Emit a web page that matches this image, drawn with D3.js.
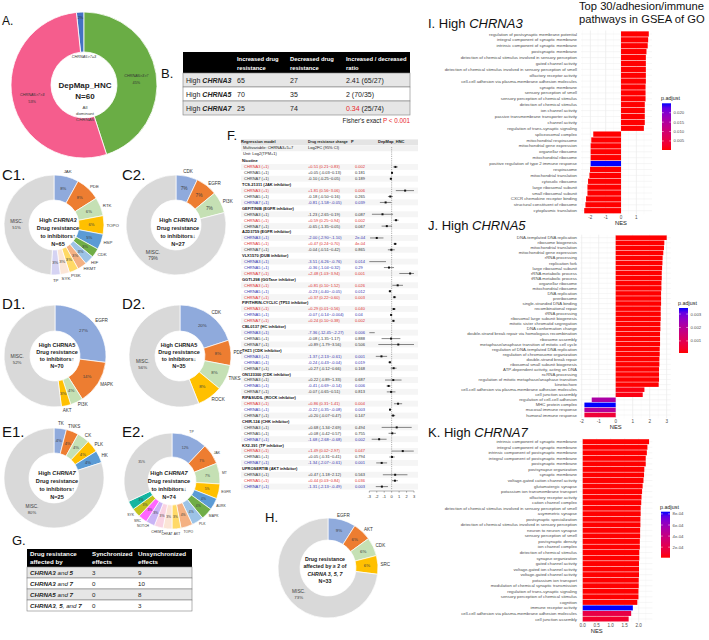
<!DOCTYPE html>
<html><head><meta charset="utf-8">
<script src="https://cdn.jsdelivr.net/npm/d3@7/dist/d3.min.js"></script>
<style>html,body{margin:0;padding:0;background:#fff;}svg{display:block;font-family:"Liberation Sans",Arial,sans-serif;}</style>
</head><body>
<svg id="fig" width="709" height="640" viewBox="0 0 709 640"></svg>
<script>
// ================= DATA =================
const A_names = ["CHRNA5>7=3","CHRNA5>3>7","CHRNA5>7>3"];
const A_values = [1,27,32];
const A_pcts = ["2%","45%","53%"];

const B_genes = ["CHRNA3","CHRNA5","CHRNA7"];
const B_increased = [65,70,25];
const B_decreased = [27,35,74];

const C1_names = ["JAK","PDE","RTK","TOPO","HSP","CDK","HIF","HKMT","PI3K","SYK","TP","MISC."];
const C1_values = [8,8,6,6,5,3,3,3,3,3,3,49];
const C1_pcts = ["8%","8%","6%","6%","5%","3%","3%","3%","3%","3%","3%","51%"];
const C2_names = ["CDK","EGFR","PI3K","MISC."];
const C2_values = [7,7,7,79];
const C2_pcts = ["7%","7%","7%","79%"];
const D1_names = ["EGFR","MAPK","PI3K","AKT","MISC."];
const D1_values = [27,14,4,3,52];
const D1_pcts = ["27%","14%","4%","3%","52%"];
const D2_names = ["CDK","PDE","TNKS","ROCK","MISC."];
const D2_values = [20,8,8,8,56];
const D2_pcts = ["20%","8%","8%","8%","56%"];
const E1_names = ["TK","TNKS","CK","PLK","HK","MISC."];
const E1_values = [4,4,4,4,4,80];
const E1_pcts = ["4%","4%","4%","4%","4%","80%"];
const E2_names = ["TP","JAK","MT","EGFR","AURK","MAPK","PLK","TOPO","AKT","CHKAT","CHKMT","NOTCH","SRC","SYK","","MISC."];
const E2_values = [12,7,7,5,4,4,4,4,3,3,3,3,3,3,3,32];
const E2_pcts = ["12%","7%","7%","5%","4%","4%","4%","4%","3%","3%","3%","3%","3%","3%","3%","35%"];
const H_names = ["EGFR","AKT","CDK","SRC","MISC."];
const H_values = [9,6,6,6,73];
const H_pcts = ["9%","6%","6%","6%","73%"];

const G_groups = ["CHRNA3 and 5","CHRNA3 and 7","CHRNA5 and 7","CHRNA3, 5, and 7"];
const G_sync = [3,0,0,0];
const G_unsync = [9,10,8,3];

const F_drugs = ["Nicotine","TCS-21311 (JAK inhibitor)","GEFITINIB (EGFR inhibitor)","AZD3759 (EGFR inhibitor)","VLX1570 (DUB inhibitor)","GGTI-298 (GGTase inhibitor)","PIFITHRIN-CYCLIC (TP53 inhibitor)","CBL0137 (HC inhibitor)","THZ1 (CDK inhibitor)","ON123300 (CDK inhibitor)","RIPASUDIL (ROCK inhibitor)","CHIR-124 (CHK inhibitor)","KX2-391 (TP inhibitor)","UPROSERTIB (AKT inhibitor)"];
const F_genes = ["CHRNA3","CHRNA5","CHRNA7"];
const F_est = [[0.51,0.05,-0.10],[1.81,-0.18,-0.81],[-1.23,0.59,-0.65],[-2.00,0.47,-0.04],[-3.51,-0.36,2.48],[0.81,-0.23,0.37],[0.29,-0.07,0.24],[-7.36,-0.08,0.89],[-1.37,-0.24,0.27],[0.22,-0.41,-0.07],[0.86,-0.22,0.20],[0.68,0.08,-1.68],[1.49,0.05,-1.34],[0.47,0.44,-1.31]];
const F_lo = [[0.21,-0.03,-0.25],[0.56,-0.50,-1.58],[-2.65,0.25,-1.35],[-2.90,0.24,-0.51],[-6.26,-1.04,1.03],[0.10,-0.40,0.22],[0.01,-0.14,0.10],[-12.45,-1.35,-1.79],[-2.13,-0.43,-0.12],[-0.89,-0.69,-0.65],[0.31,-0.35,-0.07],[-1.34,-0.42,-2.68],[0.02,-0.31,-2.07],[-1.18,0.03,-2.13]];
const F_hi = [[0.83,0.13,0.05],[3.06,0.16,-0.05],[0.19,0.94,0.05],[-1.10,0.70,0.42],[-0.76,0.32,3.94],[1.52,-0.05,0.60],[0.56,-0.004,0.38],[-2.27,1.17,3.56],[-0.61,-0.04,0.66],[1.33,-0.14,0.51],[1.41,-0.08,0.47],[2.69,0.57,-0.68],[2.97,0.41,-0.61],[2.12,0.84,-0.49]];
const F_p = [["0.002","0.181","0.189"],["0.006","0.265","0.039"],["0.087","0.002","0.067"],["2e-04","4e-04","0.865"],["0.014","0.29","0.001"],["0.026","0.012","0.003"],["0.040","0.04","0.002"],["0.006","0.888","0.506"],["0.001","0.019","0.168"],["0.687","0.006","0.813"],["0.004","0.003","0.147"],["0.494","0.755","0.002"],["0.047","0.794","0.001"],["0.563","0.036","0.003"]];
const F_dir = [[1,0,0],[1,0,-1],[0,1,0],[-1,1,0],[-1,-1,1],[1,-1,1],[1,-1,1],[-1,0,0],[-1,-1,0],[0,-1,0],[1,-1,0],[0,0,-1],[1,0,-1],[0,1,-1]];
const F_ticks = [-3,-2,-1,0,1,2,3];

const I_terms = ["regulation of postsynaptic membrane potential","integral component of synaptic membrane","intrinsic component of synaptic membrane","postsynaptic membrane","detection of chemical stimulus involved in sensory perception","gated channel activity","detection of chemical stimulus involved in sensory perception of smell","olfactory receptor activity","cell-cell adhesion via plasma-membrane adhesion molecules","synaptic membrane","sensory perception of smell","sensory perception of chemical stimulus","detection of chemical stimulus","ion channel activity","passive transmembrane transporter activity","channel activity","regulation of trans-synaptic signaling","spliceosomal complex","mitochondrial respirasome","mitochondrial gene expression","organellar ribosome","mitochondrial ribosome","positive regulation of type 2 immune response","respirasome","mitochondrial translation","cytosolic ribosome","large ribosomal subunit","small ribosomal subunit","CXCR chemokine receptor binding","structural constituent of ribosome","cytoplasmic translation"];
const I_nes = [1.81,1.77,1.74,1.66,1.62,1.62,1.62,1.62,1.62,1.60,1.60,1.60,1.55,1.55,1.55,1.55,1.49,-1.81,-1.94,-1.98,-1.98,-1.98,-1.98,-2.02,-2.06,-2.15,-2.19,-2.19,-2.28,-2.32,-2.40];
const I_padj = [0.0002,0.0002,0.0002,0.0002,0.0002,0.0002,0.0002,0.0002,0.0002,0.0002,0.0002,0.0002,0.0002,0.0002,0.0002,0.0002,0.0002,0.0002,0.0002,0.0002,0.0002,0.0002,0.025,0.0002,0.0002,0.0002,0.0002,0.0002,0.0002,0.0002,0.0002];
const I_ticks = [-2,-1,0,1];
const I_legendTicks = [0.005,0.010,0.015,0.020];

const J_terms = ["DNA-templated DNA replication","ribosome biogenesis","mitochondrial translation","mitochondrial gene expression","rRNA processing","replication fork","large ribosomal subunit","rRNA metabolic process","tRNA metabolic process","organellar ribosome","mitochondrial ribosome","DNA replication","preribosome","single-stranded DNA binding","recombinational repair","tRNA processing","ribosomal large subunit biogenesis","mitotic sister chromatid segregation","DNA conformation change","double-strand break repair via homologous recombination","ribosome assembly","metaphase/anaphase transition of mitotic cell cycle","regulation of DNA-templated DNA replication","regulation of chromosome organization","double-strand break repair","ribosomal small subunit biogenesis","ATP-dependent activity, acting on DNA","ncRNA processing","regulation of mitotic metaphase/anaphase transition","kinetochore","cell-cell adhesion via plasma-membrane adhesion molecules","cell junction assembly","regulation of cell-cell adhesion","MHC protein complex","mucosal immune response","humoral immune response"];
const J_nes = [3.00,2.86,2.84,2.80,2.76,2.75,2.73,2.71,2.71,2.69,2.69,2.67,2.67,2.67,2.65,2.65,2.65,2.63,2.63,2.61,2.61,2.61,2.59,2.59,2.57,2.57,2.55,2.55,2.55,2.53,1.69,1.59,-1.41,-1.84,-1.84,-1.84];
const J_padj = [0.0001,0.0001,0.0001,0.0001,0.0001,0.0001,0.0001,0.0001,0.0001,0.0001,0.0001,0.0001,0.0001,0.0001,0.0001,0.0001,0.0001,0.0001,0.0001,0.0001,0.0001,0.0001,0.0001,0.0001,0.0001,0.0001,0.0001,0.0001,0.0001,0.0001,0.0002,0.0002,0.0022,0.00345,0.00204,0.0006];
const J_ticks = [-2,-1,0,1,2,3];
const J_legendTicks = [0.001,0.002,0.003];

const K_terms = ["intrinsic component of synaptic membrane","integral component of synaptic membrane","intrinsic component of postsynaptic membrane","integral component of postsynaptic membrane","postsynaptic membrane","postsynapse organization","synaptic membrane","voltage-gated cation channel activity","glutamatergic synapse","potassium ion transmembrane transport","olfactory receptor activity","cation channel complex","detection of chemical stimulus involved in sensory perception of smell","asymmetric synapse","postsynaptic specialization","detection of chemical stimulus involved in sensory perception","neuron to neuron synapse","sensory perception of smell","postsynaptic density","ion channel complex","detection of chemical stimulus","synapse organization","gated channel activity","voltage-gated ion channel activity","voltage-gated channel activity","potassium ion transport","modulation of chemical synaptic transmission","regulation of trans-synaptic signaling","sensory perception of chemical stimulus","cognition","immune receptor activity","cell-cell adhesion via plasma-membrane adhesion molecules","cell junction assembly"];
const K_nes = [2.37,2.31,2.29,2.25,2.25,2.20,2.19,2.17,2.14,2.12,2.10,2.09,2.07,2.07,2.06,2.06,2.05,2.05,2.04,2.04,2.02,2.02,2.01,2.01,2.01,2.00,2.00,1.99,1.99,1.95,1.79,1.73,1.64];
const K_padj = [0.00001,0.00001,0.00001,0.00001,0.00001,0.00001,0.00001,0.00001,0.00001,0.00001,0.00001,0.00001,0.00001,0.00001,0.00001,0.00001,0.00001,0.00001,0.00001,0.00001,0.00001,0.00001,0.00001,0.00001,0.00001,0.00001,0.00001,0.00001,0.00001,0.00001,0.00084,0.00018,0.0001];
const K_ticks = [0,0.5,1,1.5,2];
const K_legendTicks = [0.0002,0.0004,0.0006,0.0008];

// ================= HELPERS =================
const svg = d3.select("#fig");
svg.append("rect").attr("width",709).attr("height",640).attr("fill","#fff");
function txt(g,x,y,s,size,o={}){
  const t=g.append("text").attr("x",x).attr("y",y).attr("font-size",size).text(s).attr("fill",o.fill||"#222");
  if(o.anchor) t.attr("text-anchor",o.anchor);
  if(o.weight) t.attr("font-weight",o.weight);
  if(o.style) t.attr("font-style",o.style);
  return t;
}
function rich(g,x,y,segs,size,o={}){
  const t=g.append("text").attr("x",x).attr("y",y).attr("font-size",size).attr("fill",o.fill||"#222");
  if(o.anchor) t.attr("text-anchor",o.anchor);
  segs.forEach(s=>{
    const sp=t.append("tspan").text(s[0]);
    if(s[1]&&s[1].b) sp.attr("font-weight","bold");
    if(s[1]&&s[1].i) sp.attr("font-style","italic");
    if(s[1]&&s[1].fill) sp.attr("fill",s[1].fill);
  });
  return t;
}
const COL = {lblue:"#8faadc",orange:"#ed7d31",lgreen:"#c5e0b4",yellow:"#ffc000",blue:"#5b9bd5",green:"#70ad47",sky:"#9dc3e6",peach:"#f4b183",lyellow:"#ffd966",cream:"#fbe5d6",lav:"#d5d3f3",grey:"#d9d9d9",pink:"#f9d3e3",purple:"#c9b3f5",magenta:"#ff66ff",olive:"#c3c31c",teal:"#14b5a0"};

// ================= PANEL LABELS =================
[["A.",2,25,12],["B.",161,78,13],["C1.",2,180,15],["C2.",122,180,15],["D1.",2,309,15],["D2.",122,309,15],["E1.",2,437,15],["E2.",122,437,15],["F.",227,140,13],["G.",12,545,13],["H.",265,522,13]]
 .forEach(l=>txt(svg,l[1],l[2],l[0],l[3],{fill:"#111"}));

// ================= PANEL A =================
(function(){
  const cx=84, cy=85, rO=73, rI=33;
  const g=svg.append("g").attr("transform",`translate(${cx},${cy})`);
  const items=A_names.map((n,i)=>({n,v:A_values[i],p:A_pcts[i],c:["#4472c4","#6aad45","#f55d8d"][i]}));
  const st=-2*Math.PI*A_values[0]/d3.sum(A_values);
  const arcs=d3.pie().sort(null).value(d=>d.v).startAngle(st).endAngle(st+2*Math.PI)(items);
  g.selectAll("path").data(arcs).join("path").attr("d",d3.arc().innerRadius(rI).outerRadius(rO))
    .attr("fill",d=>d.data.c).attr("stroke","#fff").attr("stroke-width",0.8);
  const rm=(rO+rI)/2;
  arcs.forEach((a,i)=>{
    const ang=(a.startAngle+a.endAngle)/2, s=Math.sin(ang), c=-Math.cos(ang);
    if(i===0){
      txt(g,s*(rO-5),c*(rO-5)+1.5,a.data.p,3.8,{anchor:"middle",fill:"#333"});
      txt(g,0,-27,a.data.n,3.8,{anchor:"middle",style:"italic",fill:"#333"});
    } else {
      txt(g,s*rm,c*rm,a.data.n,3.8,{anchor:"middle",style:"italic",fill:"#333"});
      txt(g,s*rm,c*rm+7,a.data.p,3.8,{anchor:"middle",fill:"#333"});
    }
  });
  txt(g,1,3,"DepMap_HNC",8,{anchor:"middle",weight:"bold",fill:"#222"});
  txt(g,1,14,"N=60",8,{anchor:"middle",weight:"bold",fill:"#222"});
  txt(g,1,23.5,"All",4.4,{anchor:"middle",fill:"#444"});
  txt(g,1,29.5,"dominant",4.4,{anchor:"middle",fill:"#444"});
  txt(g,1,35.5,"CHRNA5",4.4,{anchor:"middle",style:"italic",fill:"#444"});
})();

// ================= DONUT HELPER =================
function donut(o){
  const g=svg.append("g").attr("transform",`translate(${o.cx},${o.cy})`);
  const items=o.names.map((n,i)=>({n,v:o.values[i],p:o.pcts[i],c:o.colors[i]}));
  const arcs=d3.pie().sort(null).value(d=>d.v)(items);
  g.selectAll("path").data(arcs).join("path").attr("d",d3.arc().innerRadius(o.rI).outerRadius(o.rO))
    .attr("fill",d=>d.data.c).attr("stroke","#fff").attr("stroke-width",0.7);
  const rm=(o.rI+o.rO)/2;
  arcs.forEach(a=>{
    const ang=(a.startAngle+a.endAngle)/2, s=Math.sin(ang), c=-Math.cos(ang);
    if(a.data.n==="MISC."){
      const mx=s*rm, my=c*rm;
      if(o.miscName!==false){
        txt(g,mx,my-0.5,"MISC.",o.pf+0.4,{anchor:"middle",fill:"#404040"});
        txt(g,mx,my+5.5,a.data.p,o.pf,{anchor:"middle",fill:"#404040"});
      } else txt(g,mx,my+1.5,a.data.p,o.pf,{anchor:"middle",fill:"#404040"});
    } else {
      txt(g,s*rm,c*rm+o.pf*0.35,a.data.p,o.pf,{anchor:"middle",fill:"#404040"});
      if(a.data.n){
        const anchor=s>0.4?"start":(s<-0.4?"end":"middle");
        const ro=o.rO+(anchor==="middle"?5:2.5);
        txt(g,s*ro,c*ro+o.nf*0.35,a.data.n,o.nf,{anchor,fill:"#333"});
      }
    }
  });
  const n=o.lines.length;
  o.lines.forEach((ln,i)=>{
    rich(g,o.tx,o.ty+(i-(n-1)/2)*o.lh+o.tf*0.35,ln,o.tf,{anchor:"middle",fill:"#1a1a1a"});
  });
}
const B={b:true}, BI={b:true,i:true};
function innerLines(gene,italic,arrow,n){
  return [[["High ",B],[gene,italic?BI:B]],[["Drug resistance",B]],[["to inhibitors"+arrow,B]],[["N="+n,B]]];
}
donut({cx:54,cy:225,rO:50,rI:25,names:C1_names,values:C1_values,pcts:C1_pcts,
  colors:[COL.lblue,COL.orange,COL.lgreen,COL.yellow,COL.blue,COL.green,COL.sky,COL.peach,COL.lyellow,COL.cream,COL.lav,COL.grey],
  pf:4.2,nf:4.4,tf:5.6,lh:8.2,tx:4,ty:7,lines:innerLines("CHRNA3",true,"↑",65)});
donut({cx:176,cy:225,rO:50,rI:25,names:C2_names,values:C2_values,pcts:C2_pcts,
  colors:[COL.lblue,COL.orange,COL.lgreen,COL.grey],
  pf:4.8,nf:4.6,tf:5.6,lh:8.2,tx:2,ty:7,lines:innerLines("CHRNA3",true,"↓",27)});
donut({cx:55,cy:356,rO:51,rI:25,names:D1_names,values:D1_values,pcts:D1_pcts,
  colors:[COL.lblue,COL.orange,COL.lgreen,COL.yellow,COL.grey],
  pf:4.4,nf:4.6,tf:5.5,lh:7,tx:2,ty:0,lines:innerLines("CHRNA5",false,"↑",70)});
donut({cx:180,cy:356,rO:51,rI:25,names:D2_names,values:D2_values,pcts:D2_pcts,
  colors:[COL.lblue,COL.orange,COL.lgreen,COL.yellow,COL.grey],
  pf:4.4,nf:4.6,tf:5.5,lh:7,tx:-1,ty:0,lines:[[["High CHRNA5",B]],[["Drug resistance",B]],[["to inhibitors↓",B]],[["N=35",B]]]});
donut({cx:54,cy:478,rO:50,rI:25,names:E1_names,values:E1_values,pcts:E1_pcts,
  colors:[COL.lblue,COL.orange,COL.lgreen,COL.yellow,COL.blue,COL.grey],
  pf:4.2,nf:4.6,tf:5.6,lh:7.7,tx:3,ty:7,lines:innerLines("CHRNA7",true,"↑",25)});
donut({cx:172,cy:481,rO:48,rI:24,names:E2_names,values:E2_values,pcts:E2_pcts,miscName:false,
  colors:[COL.lblue,COL.orange,COL.lgreen,COL.yellow,COL.blue,COL.green,COL.sky,COL.peach,COL.lyellow,COL.cream,COL.pink,COL.purple,COL.magenta,COL.olive,COL.teal,COL.grey],
  pf:3.4,nf:3.4,tf:5.6,lh:7.7,tx:-3,ty:4,lines:innerLines("CHRNA7",true,"↓",74)});
donut({cx:328,cy:568,rO:50,rI:28,names:H_names,values:H_values,pcts:H_pcts,
  colors:[COL.lblue,COL.orange,COL.lgreen,COL.yellow,COL.grey],
  pf:4.4,nf:4.6,tf:5.3,lh:7.3,tx:-3,ty:2,
  lines:[[["Drug resistance",B]],[["affected by ≥ 2 of",B]],[["CHRNA 3, 5, 7",BI]],[["N=33",B]]]});

// ================= TABLE B =================
(function(){
  const g=svg.append("g");
  const x0=183,x1=410,cols=[186,237,290,346];
  g.append("rect").attr("x",x0).attr("y",52).attr("width",x1-x0).attr("height",21).attr("fill","#000");
  const hdr=[[],["Increased drug","resistance"],["Decreased drug","resistance"],["Increased / decreased","ratio"]];
  hdr.forEach((h,i)=>h.forEach((l,j)=>txt(g,cols[i],61+j*8.5,l,5.8,{weight:"bold",fill:"#fff"})));
  const rowY=d3.scaleBand().domain(B_genes).range([73,115]);
  B_genes.forEach((gene,i)=>{
    const y=rowY(gene);
    g.append("rect").attr("x",x0).attr("y",y).attr("width",x1-x0).attr("height",rowY.bandwidth())
      .attr("fill",i%2===0?"#e6e6e6":"#fff").attr("stroke","#7f7f7f").attr("stroke-width",0.6);
    const by=y+rowY.bandwidth()/2+2.5;
    rich(g,cols[0],by,[["High ",{}],[gene,BI]],7);
    txt(g,cols[1],by,String(B_increased[i]),7);
    txt(g,cols[2],by,String(B_decreased[i]),7);
    const r=+(B_increased[i]/B_decreased[i]).toFixed(2);
    rich(g,cols[3],by,[[String(r),{fill:r<1?"#e8262b":"#222"}],[` (${B_increased[i]}/${B_decreased[i]})`,{}]],7);
  });
  rich(g,x1,123,[["Fisher's exact  ",{}],["P < 0.001",{fill:"#e8262b"}]],6.3,{anchor:"end"});
})();

// ================= PANEL F =================
(function(){
  const g=svg.append("g");
  const fs=4;
  const xL=243,xC=308,xP=355;
  const x=d3.scaleLinear().domain([-3,3]).range([369.3,414]).clamp(true);
  const nRows=F_drugs.length*4;
  const y=d3.scalePoint().domain(d3.range(nRows)).range([161,486.6]);
  const hy=[143,149,155];
  hy.forEach((yy,i)=>{ if(i!==2) g.append("rect").attr("x",241).attr("y",yy-3.6).attr("width",177).attr("height",5.8).attr("fill",i===0?"#e4e4e4":"#f1f1f1"); });
  d3.range(nRows).forEach(i=>{ if(i%2===1) g.append("rect").attr("x",241).attr("y",y(i)-3).attr("width",177).attr("height",5.9).attr("fill","#f5f5f5"); });
  txt(g,241,hy[0],"Regression model",fs,{weight:"bold"});
  txt(g,xC,hy[0],"Drug resistance change",3.5,{weight:"bold"});
  txt(g,351,hy[0],"P",fs,{weight:"bold"});
  txt(g,378,hy[0],"DepMap_HNC",fs,{weight:"bold"});
  txt(g,xL,hy[1],"Multivariable: CHRNA3+5+7",fs);
  txt(g,xC,hy[1],"Log2FC (95% CI)",fs);
  txt(g,xL,hy[2],"Unit: Log2(TPM+1)",fs);
  g.append("line").attr("x1",x(0)).attr("x2",x(0)).attr("y1",147).attr("y2",490)
    .attr("stroke","#555").attr("stroke-width",0.45).attr("stroke-dasharray","1.2,1");
  const col=d=>d>0?"#e0302f":(d<0?"#3434b0":"#333");
  const fe=v=>(v>0?"+":"")+v.toFixed(2);
  const fc=v=>(Math.abs(v)<0.01&&v!==0)?String(v):v.toFixed(2);
  F_drugs.forEach((drug,di)=>{
    const r0=di*4;
    txt(g,242,y(r0)+1.4,drug,fs,{weight:"bold",fill:"#111"});
    F_genes.forEach((gene,gi)=>{
      const yy=y(r0+1+gi), c=col(F_dir[di][gi]);
      txt(g,xL+1,yy+1.4,gene+" (+1)",fs,{fill:c});
      txt(g,xC,yy+1.4,`${fe(F_est[di][gi])} (${fc(F_lo[di][gi])}~${fc(F_hi[di][gi])})`,fs,{fill:c});
      txt(g,xP,yy+1.4,F_p[di][gi],fs,{fill:c});
      g.append("line").attr("x1",x(F_lo[di][gi])).attr("x2",x(F_hi[di][gi])).attr("y1",yy).attr("y2",yy)
        .attr("stroke","#111").attr("stroke-width",0.5);
      const e=F_est[di][gi];
      if(e>=-3&&e<=3) g.append("rect").attr("x",x(e)-1).attr("y",yy-1).attr("width",2).attr("height",2).attr("fill","#111");
    });
  });
  const ax=g.append("g").attr("transform","translate(0,491)");
  ax.append("line").attr("x1",x(-3)).attr("x2",x(3)).attr("stroke","#333").attr("stroke-width",0.4);
  F_ticks.forEach(t=>{
    ax.append("line").attr("x1",x(t)).attr("x2",x(t)).attr("y1",0).attr("y2",1.6).attr("stroke","#333").attr("stroke-width",0.4);
    txt(ax,x(t),6.5,String(t),4,{anchor:"middle",fill:"#333"});
  });
})();

// ================= TABLE G =================
(function(){
  const g=svg.append("g");
  const x0=27,x1=192,cols=[30,92,138];
  g.append("rect").attr("x",x0).attr("y",549).attr("width",x1-x0).attr("height",18).attr("fill","#000");
  [["Drug resistance","affected by"],["Synchronized","effects"],["Unsynchronized","effects"]]
    .forEach((h,i)=>h.forEach((l,j)=>txt(g,cols[i],556+j*7.5,l,6.2,{weight:"bold",fill:"#fff"})));
  const rowY=d3.scaleBand().domain(G_groups).range([567,611]);
  G_groups.forEach((grp,i)=>{
    const y=rowY(grp);
    g.append("rect").attr("x",x0).attr("y",y).attr("width",x1-x0).attr("height",rowY.bandwidth())
      .attr("fill",i%2===0?"#e6e6e6":"#fff").attr("stroke","#7f7f7f").attr("stroke-width",0.6);
    const by=y+rowY.bandwidth()/2+2.2;
    const segs=grp.split(/(CHRNA\d|\d)/).filter(s=>s.length).map(s=>[s,/^(CHRNA\d|\d)$/.test(s)?BI:{i:true}]);
    rich(g,cols[0],by,segs,6.2);
    txt(g,cols[1],by,String(G_sync[i]),6.2);
    txt(g,cols[2],by,String(G_unsync[i]),6.2);
  });
})();

// ================= GSEA PANELS =================
function gsea(o){
  const g=svg.append("g");
  const lo=Math.min(0,d3.min(o.nes)), hi=Math.max(0,d3.max(o.nes)), ex=(hi-lo)*0.05;
  const x=d3.scaleLinear().domain([lo-ex,hi+ex]).range([o.x0,o.x1]);
  const y=d3.scalePoint().domain(d3.range(o.terms.length)).range([o.yTop,o.yBot]);
  const st=y.step(), pTop=o.yTop-0.6*st, pBot=o.yBot+0.6*st;
  const pmin=d3.min(o.padj), pmax=d3.max(o.padj);
  const color=d3.scaleLinear().domain([pmin,pmax]).range(["#ff0000","#0000ff"]).interpolate(d3.interpolateLab);
  const minor=o.ticks.slice(0,-1).map((t,i)=>(t+o.ticks[i+1])/2);
  minor.push(o.ticks[0]-(o.ticks[1]-o.ticks[0])/2, o.ticks[o.ticks.length-1]+(o.ticks[1]-o.ticks[0])/2);
  minor.filter(t=>t>=x.domain()[0]&&t<=x.domain()[1]).forEach(t=>g.append("line").attr("x1",x(t)).attr("x2",x(t)).attr("y1",pTop).attr("y2",pBot).attr("stroke","#f3f3f3").attr("stroke-width",0.35));
  o.ticks.forEach(t=>g.append("line").attr("x1",x(t)).attr("x2",x(t)).attr("y1",pTop).attr("y2",pBot).attr("stroke","#e6e6e6").attr("stroke-width",0.6));
  o.terms.forEach((t,i)=>g.append("line").attr("x1",o.x0).attr("x2",o.x1).attr("y1",y(i)).attr("y2",y(i)).attr("stroke","#ececec").attr("stroke-width",0.5));
  g.selectAll("rect.bar").data(o.nes).join("rect").attr("class","bar")
    .attr("x",d=>x(Math.min(0,d))).attr("width",d=>Math.abs(x(d)-x(0)))
    .attr("y",(d,i)=>y(i)-0.45*st).attr("height",0.9*st).attr("fill",(d,i)=>color(o.padj[i]));
  o.terms.forEach((t,i)=>txt(g,577,y(i)+o.lf*0.35,t,o.lf,{anchor:"end",fill:"#4d4d4d"}));
  o.ticks.forEach(t=>txt(g,x(t),pBot+5,o.tf(t),4.6,{anchor:"middle",fill:"#4d4d4d"}));
  txt(g,x(0)+(o.nesDx||0),pBot+11,"NES",5.8,{anchor:"middle",fill:"#222"});
  const L=o.legend;
  const ly=d3.scaleLinear().domain([pmin,pmax]).range([L.y1,L.y0]);
  const gid="grad"+o.id;
  const grad=svg.append("defs").append("linearGradient").attr("id",gid).attr("x1",0).attr("x2",0).attr("y1",1).attr("y2",0);
  d3.range(11).forEach(k=>grad.append("stop").attr("offset",k/10).attr("stop-color",color(pmin+(pmax-pmin)*k/10)));
  g.append("rect").attr("x",L.x).attr("y",L.y0).attr("width",9).attr("height",L.y1-L.y0).attr("fill",`url(#${gid})`);
  txt(g,L.x-1,L.y0-3,"p.adjust",5.4,{fill:"#222"});
  o.legendTicks.forEach(t=>{
    g.append("line").attr("x1",L.x).attr("x2",L.x+1.8).attr("y1",ly(t)).attr("y2",ly(t)).attr("stroke","#fff").attr("stroke-width",0.5);
    g.append("line").attr("x1",L.x+7.2).attr("x2",L.x+9).attr("y1",ly(t)).attr("y2",ly(t)).attr("stroke","#fff").attr("stroke-width",0.5);
    txt(g,L.x+11.5,ly(t)+1.5,o.lfmt(t),4.3,{fill:"#4d4d4d"});
  });
  rich(svg,o.titleX,o.titleY,[[o.title+" High ",{}],[o.gene,{i:true}]],13,{fill:"#111"});
}
const sciFmt=t=>d3.format(".0e")(t).replace(/e([-+])(\d)$/,"e$10$2");
gsea({id:"I",terms:I_terms,nes:I_nes,padj:I_padj,x0:581,x1:652,yTop:34,yBot:210.7,lf:4.3,ticks:I_ticks,tf:t=>String(t),
  legend:{x:662,y0:103.3,y1:150},legendTicks:I_legendTicks,lfmt:d3.format(".3f"),title:"I.",gene:"CHRNA3",titleX:428,titleY:28});
gsea({id:"J",terms:J_terms,nes:J_nes,padj:J_padj,x0:580.3,x1:670.8,yTop:237.7,yBot:415,lf:4.3,ticks:J_ticks,tf:t=>String(t),
  legend:{x:679,y0:308,y1:353},legendTicks:J_legendTicks,lfmt:d3.format(".3f"),title:"J.",gene:"CHRNA5",titleX:428,titleY:230});
gsea({id:"K",terms:K_terms,nes:K_nes,padj:K_padj,x0:579.4,x1:652.4,yTop:441.7,yBot:619,lf:4.3,ticks:K_ticks,tf:d3.format(".1f"),nesDx:14,
  legend:{x:661,y0:511.7,y1:557.7},legendTicks:K_legendTicks,lfmt:sciFmt,title:"K.",gene:"CHRNA7",titleX:428,titleY:436.5});
txt(svg,579,10,"Top 30/adhesion/immune",11.2,{fill:"#111"});
txt(svg,579,23,"pathways in GSEA of GO",11.2,{fill:"#111"});
</script>
</body></html>
